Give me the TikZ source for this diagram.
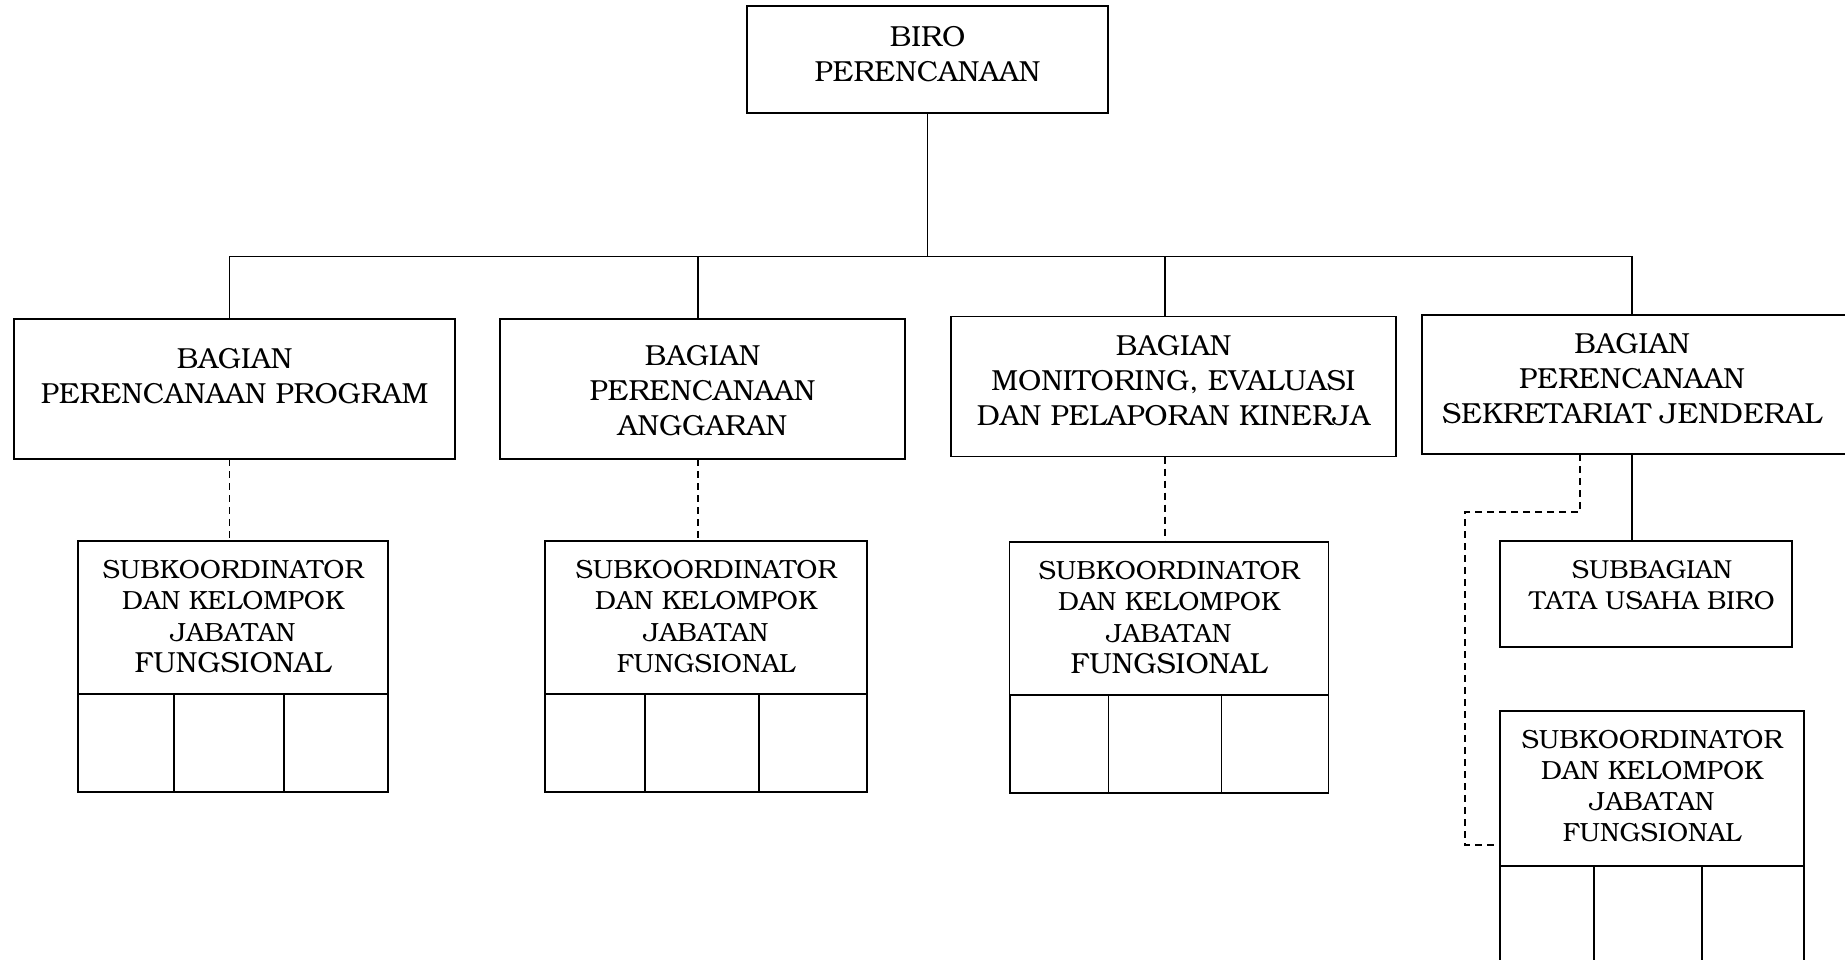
\documentclass[tikz,border=0pt]{standalone}
\usepackage[T1]{fontenc}
\usepackage{bookman}
\begin{document}
\begin{tikzpicture}[x=1pt,y=-1pt,
  box/.style={draw, rectangle, inner sep=0pt, outer sep=0pt, line width=1.8pt},
  lbl/.style={align=center, inner sep=0pt, font=\fontsize{29}{35}\selectfont},
  slbl/.style={align=center, inner sep=0pt, font=\fontsize{26.3}{31.3}\selectfont},
  conn/.style={line width=1.7pt},
  dsh/.style={line width=1.9pt, dash pattern=on 7pt off 5pt}]
\clip (0,0) rectangle (1845,960);
% top
\node[box, minimum width=361pt, minimum height=107pt] (biro) at (927.5,59.5) {};
\node[lbl] (tbiro) at (927.5,54.3) {BIRO\\PERENCANAAN};
% bagian boxes
\node[box, minimum width=441pt, minimum height=140pt] (b1) at (234.5,389) {};
\node[lbl] (tb1) at (234.5,376.5) {BAGIAN\\PERENCANAAN PROGRAM};
\node[box, minimum width=405pt, minimum height=140pt] (b2) at (702.5,389) {};
\node[lbl] (tb2) at (702.5,390.7) {BAGIAN\\PERENCANAAN\\ANGGARAN};
\node[box, minimum width=445pt, minimum height=140pt] (b3) at (1173.5,386.5) {};
\node[lbl] (tb3) at (1173.5,380.7) {BAGIAN\\MONITORING, EVALUASI\\DAN PELAPORAN KINERJA};
\node[box, minimum width=428pt, minimum height=139pt] (b4) at (1636,384.5) {};
\node[lbl] (tb4) at (1632,378.6) {BAGIAN\\PERENCANAAN\\SEKRETARIAT JENDERAL};
% bus
\coordinate (d1) at (229.5,256.5);
\coordinate (d2) at (698,256.5);
\coordinate (d3) at (1165,256.5);
\coordinate (d4) at (1632,256.5);
\draw[conn] (d1) -- (d4);
\draw[conn] (biro.south) -- (biro.south |- d1);
\draw[conn] (d1) -- (d1 |- b1.north);
\draw[conn] (d2) -- (d2 |- b2.north);
\draw[conn] (d3) -- (d3 |- b3.north);
\draw[conn] (d4) -- (d4 |- b4.north);
% sub column 1
\node[box, minimum width=310.6pt, minimum height=153pt] (s1) at (233,617.5) {};
\node[slbl] (ts1) at (233,616.5) {SUBKOORDINATOR\\DAN KELOMPOK\\JABATAN\\{\fontsize{29}{31.3}\selectfont FUNGSIONAL}};
\node[box, minimum width=96.3pt, minimum height=98pt] (c1a) at (125.85,743) {};
\node[box, minimum width=109.6pt, minimum height=98pt] (c1b) at (228.8,743) {};
\node[box, minimum width=104.7pt, minimum height=98pt] (c1c) at (335.95,743) {};
% sub column 2
\node[box, minimum width=322.4pt, minimum height=153pt] (s2) at (706,617.5) {};
\node[slbl] (ts2) at (706,616.5) {SUBKOORDINATOR\\DAN KELOMPOK\\JABATAN\\FUNGSIONAL};
\node[box, minimum width=100pt, minimum height=98pt] (c2a) at (594.8,743) {};
\node[box, minimum width=114.2pt, minimum height=98pt] (c2b) at (701.9,743) {};
\node[box, minimum width=108.2pt, minimum height=98pt] (c2c) at (813.1,743) {};
% sub column 3
\node[box, minimum width=318.9pt, minimum height=153pt] (s3) at (1169,618.5) {};
\node[slbl] (ts3) at (1169,617.5) {SUBKOORDINATOR\\DAN KELOMPOK\\JABATAN\\{\fontsize{29}{31.3}\selectfont FUNGSIONAL}};
\node[box, minimum width=98.9pt, minimum height=98pt] (c3a) at (1059.05,744) {};
\node[box, minimum width=112.9pt, minimum height=98pt] (c3b) at (1164.95,744) {};
\node[box, minimum width=107.1pt, minimum height=98pt] (c3c) at (1274.95,744) {};
% dashed links columns 1-3
\draw[dsh] (d1 |- b1.south) -- (d1 |- s1.north);
\draw[dsh] (d2 |- b2.south) -- (d2 |- s2.north);
\draw[dsh] (d3 |- b3.south) -- (d3 |- s3.north);
% column 4
\node[box, minimum width=292pt, minimum height=106pt] (sb) at (1646,594) {};
\node[slbl, font=\fontsize{26}{31}\selectfont] (tsb) at (1652,585) {SUBBAGIAN\\TATA USAHA BIRO};
\node[box, minimum width=304pt, minimum height=155pt] (s4) at (1652,788.5) {};
\node[slbl] (ts4) at (1652,786) {SUBKOORDINATOR\\DAN KELOMPOK\\JABATAN\\FUNGSIONAL};
\node[box, minimum width=94pt, minimum height=110pt] (c4a) at (1547,921) {};
\node[box, minimum width=108pt, minimum height=110pt] (c4b) at (1648,921) {};
\node[box, minimum width=102pt, minimum height=110pt] (c4c) at (1753,921) {};
\draw[conn] (d4 |- b4.south) -- (d4 |- sb.north);
\coordinate (k4) at (1580,512);
\coordinate (k5) at (1465,512);
\coordinate (k6) at (1465,845);
\draw[dsh] (k4 |- b4.south) -- (k4) -- (k5) -- (k6) -- (k6 -| s4.west);
\end{tikzpicture}
\end{document}
